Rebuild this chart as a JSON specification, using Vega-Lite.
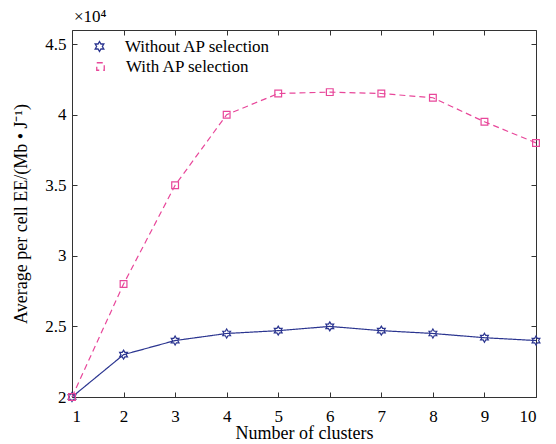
{
  "$schema": "https://vega.github.io/schema/vega-lite/v6.json",
  "width": 464,
  "height": 367,
  "autosize": "none",
  "padding": {"left": 72, "top": 30, "right": 20, "bottom": 47},
  "background": "white",
  "title": {"text": "×10⁴", "anchor": "start", "frame": "group", "fontSize": 17, "font": "Liberation Serif", "fontWeight": "normal", "offset": 4, "dx": 2, "color": "black"},
  "data": {"values": [
    {"clusters": 1, "ee": 20000, "series": "Without AP selection"},
    {"clusters": 2, "ee": 23000, "series": "Without AP selection"},
    {"clusters": 3, "ee": 24000, "series": "Without AP selection"},
    {"clusters": 4, "ee": 24500, "series": "Without AP selection"},
    {"clusters": 5, "ee": 24700, "series": "Without AP selection"},
    {"clusters": 6, "ee": 25000, "series": "Without AP selection"},
    {"clusters": 7, "ee": 24700, "series": "Without AP selection"},
    {"clusters": 8, "ee": 24500, "series": "Without AP selection"},
    {"clusters": 9, "ee": 24200, "series": "Without AP selection"},
    {"clusters": 10, "ee": 24000, "series": "Without AP selection"},
    {"clusters": 1, "ee": 20000, "series": "With AP selection"},
    {"clusters": 2, "ee": 28000, "series": "With AP selection"},
    {"clusters": 3, "ee": 35000, "series": "With AP selection"},
    {"clusters": 4, "ee": 40000, "series": "With AP selection"},
    {"clusters": 5, "ee": 41500, "series": "With AP selection"},
    {"clusters": 6, "ee": 41600, "series": "With AP selection"},
    {"clusters": 7, "ee": 41500, "series": "With AP selection"},
    {"clusters": 8, "ee": 41200, "series": "With AP selection"},
    {"clusters": 9, "ee": 39500, "series": "With AP selection"},
    {"clusters": 10, "ee": 38000, "series": "With AP selection"}
  ]},
  "config": {
    "view": {"stroke": null},
    "font": "Liberation Serif",
    "axis": {
      "grid": false,
      "domain": true,
      "domainColor": "#333",
      "domainWidth": 1,
      "tickColor": "#333",
      "tickSize": -5,
      "labelFont": "Liberation Serif",
      "labelFontSize": 17,
      "labelColor": "black",
      "titleFont": "Liberation Serif",
      "titleFontSize": 18,
      "titleFontWeight": "normal",
      "titleColor": "black"
    },
    "legend": {"labelFont": "Liberation Serif", "labelFontSize": 17, "labelColor": "black", "padding": 0, "symbolSize": 100, "symbolStrokeWidth": 1.3}
  },
  "layer": [
    {
      "mark": {"type": "line", "strokeWidth": 1.2},
      "encoding": {
        "x": {"field": "clusters", "type": "quantitative", "scale": {"domain": [1, 10], "zero": false},
              "axis": {"orient": "bottom", "title": "Number of clusters", "values": [1,2,3,4,5,6,7,8,9,10], "labelPadding": 16, "titlePadding": 0}},
        "y": {"field": "ee", "type": "quantitative", "scale": {"domain": [20000, 45000], "zero": false},
              "axis": {"orient": "left", "title": "Average per cell EE/(Mb • J⁻¹)", "values": [20000, 25000, 30000, 35000, 40000, 45000], "labelExpr": "format(datum.value / 10000, '~g')", "labelPadding": 11, "titlePadding": 14}},
        "color": {"field": "series", "type": "nominal",
                  "scale": {"domain": ["Without AP selection", "With AP selection"], "range": ["#2b3590", "#e8479a"]},
                  "legend": {
                    "title": null, "orient": "top-left", "offset": 8, "values": ["Without AP selection"],
                    "symbolOffset": 11, "labelOffset": 17,
                    "symbolType": "M-4.6,0H-0.52M0.52,0H4.6M0,-0.9L0.26,-0.45L0.78,-0.45L0.52,0L0.78,0.45L0.26,0.45L0,0.9L-0.26,0.45L-0.78,0.45L-0.52,0L-0.78,-0.45L-0.26,-0.45Z",
                    "symbolFillColor": "transparent"
                  }},
        "strokeDash": {"field": "series", "type": "nominal",
                       "scale": {"domain": ["Without AP selection", "With AP selection"], "range": [[1, 0], [6, 4]]},
                       "legend": {
                         "title": null, "orient": "none", "legendX": 20, "legendY": 28, "values": ["With AP selection"],
                         "symbolOffset": 0, "labelOffset": 17,
                         "symbolType": "M-4.6,0H-3.4M-2.2,0H-1.0M1.0,0H2.2M3.4,0H4.6M-0.55,-0.55H0.55M0.55,-0.55V0.55M0.55,0.55H-0.55M-0.55,0.55V-0.55",
                         "symbolStrokeColor": "#e8479a",
                         "symbolFillColor": "transparent"
                       }}
      }
    },
    {
      "mark": {"type": "point", "filled": false, "strokeWidth": 1.2, "size": 81, "opacity": 1},
      "encoding": {
        "x": {"field": "clusters", "type": "quantitative",
              "axis": {"orient": "top", "title": null, "labels": false, "values": [1,2,3,4,5,6,7,8,9,10]}},
        "y": {"field": "ee", "type": "quantitative",
              "axis": {"orient": "right", "title": null, "labels": false, "values": [20000, 25000, 30000, 35000, 40000, 45000]}},
        "color": {"field": "series", "type": "nominal", "legend": null},
        "shape": {"field": "series", "type": "nominal",
                  "scale": {"domain": ["Without AP selection", "With AP selection"],
                            "range": ["M0,-1L0.289,-0.5L0.866,-0.5L0.577,0L0.866,0.5L0.289,0.5L0,1L-0.289,0.5L-0.866,0.5L-0.577,0L-0.866,-0.5L-0.289,-0.5Z", "M-0.75,-0.75H0.75V0.75H-0.75Z"]},
                  "legend": null}
      }
    }
  ],
  "resolve": {"axis": {"x": "independent", "y": "independent"}}
}
